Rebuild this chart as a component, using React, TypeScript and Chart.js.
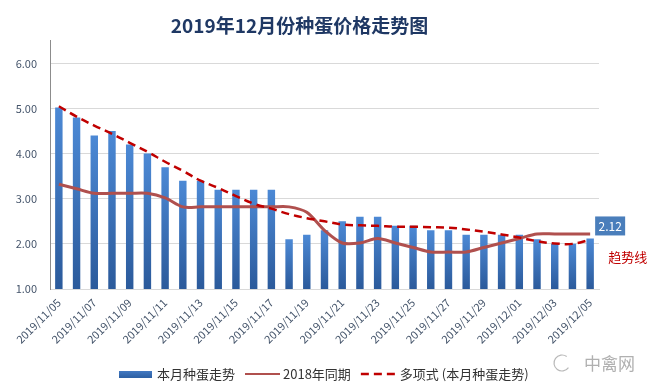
import React, { useEffect, useRef } from 'react';
import { Chart, registerables } from 'chart.js';

Chart.register(...registerables);

const TITLE = '2019年12月份种蛋价格走势图';
const SERIES_NAMES = ['本月种蛋走势', '2018年同期', '多项式 (本月种蛋走势)'];
const TREND_TAG = '趋势线';
const WATERMARK = '中禽网';

const dates = [
  '2019/11/05', '2019/11/06', '2019/11/07', '2019/11/08', '2019/11/09', '2019/11/10',
  '2019/11/11', '2019/11/12', '2019/11/13', '2019/11/14', '2019/11/15', '2019/11/16',
  '2019/11/17', '2019/11/18', '2019/11/19', '2019/11/20', '2019/11/21', '2019/11/22',
  '2019/11/23', '2019/11/24', '2019/11/25', '2019/11/26', '2019/11/27', '2019/11/28',
  '2019/11/29', '2019/11/30', '2019/12/01', '2019/12/02', '2019/12/03', '2019/12/04',
  '2019/12/05',
];

const currentPrices = [
  5.02, 4.8, 4.4, 4.5, 4.2, 4.0, 3.7, 3.4, 3.4, 3.2, 3.2, 3.2, 3.2, 2.1, 2.2, 2.3,
  2.5, 2.6, 2.6, 2.4, 2.4, 2.3, 2.3, 2.2, 2.2, 2.2, 2.2, 2.1, 2.0, 2.0, 2.12,
];

const lastYearPrices = [
  3.32, 3.22, 3.12, 3.12, 3.12, 3.12, 3.02, 2.82, 2.82, 2.82, 2.82, 2.82, 2.82, 2.82, 2.7, 2.3,
  2.02, 2.02, 2.12, 2.02, 1.92, 1.82, 1.82, 1.82, 1.92, 2.02, 2.12, 2.22, 2.22, 2.22, 2.22,
];

const trendPrices = [
  5.05, 4.82, 4.62, 4.44, 4.24, 4.04, 3.82, 3.62, 3.4, 3.24, 3.06, 2.89, 2.78, 2.66, 2.57, 2.5,
  2.43, 2.41, 2.4, 2.38, 2.38, 2.37, 2.36, 2.32, 2.27, 2.21, 2.14, 2.06, 2.01, 2.0, 2.09,
];

const Y_MIN = 1;
const Y_MAX = 6.5;
const Y_STEP = 1;

const FONT = "'Noto Sans CJK SC', 'Noto Sans', sans-serif";
const BAR_TOP = '#4C89D5';
const BAR_BOTTOM = '#2B5A9B';
const LINE_2018 = '#B0504E';
const TREND_RED = '#C00000';
const LABEL_BLUE = '#4A7EBB';

export default function App() {
  const ref = useRef<HTMLCanvasElement>(null);

  useEffect(() => {
    document.body.style.margin = '0';
    const canvas = ref.current;
    if (!canvas) return;

    const overlay = {
      id: 'overlay',
      afterDraw(chart: any) {
        const ctx = chart.ctx as CanvasRenderingContext2D;
        ctx.save();

        // value tag on the last bar
        const barMeta = chart.getDatasetMeta(0);
        const last = currentPrices.length - 1;
        const lastBar = barMeta.data[last];
        if (lastBar) {
          const bx = lastBar.x + 5;
          const by = lastBar.y - 22;
          ctx.fillStyle = LABEL_BLUE;
          ctx.fillRect(bx, by, 30, 19);
          ctx.fillStyle = '#FFFFFF';
          ctx.font = `12px ${FONT}`;
          ctx.textAlign = 'center';
          ctx.textBaseline = 'middle';
          ctx.fillText(currentPrices[last].toFixed(2), bx + 15, by + 10);
        }

        // trend tag
        const trendMeta = chart.getDatasetMeta(2);
        const lastTrend = trendMeta.data[last];
        if (lastTrend) {
          ctx.fillStyle = TREND_RED;
          ctx.font = `13px ${FONT}`;
          ctx.textAlign = 'left';
          ctx.textBaseline = 'middle';
          ctx.fillText(TREND_TAG, lastTrend.x + 18, lastTrend.y + 17);
        }

        // legend
        ctx.font = `13px ${FONT}`;
        ctx.textBaseline = 'middle';
        ctx.textAlign = 'left';
        const swW = [33, 35, 35];
        const swGap = [5, 3, 4];
        const itemGap = 10;
        const widths = SERIES_NAMES.map((n) => ctx.measureText(n).width);
        let total = 0;
        for (let i = 0; i < 3; i++) total += swW[i] + swGap[i] + widths[i] + (i < 2 ? itemGap : 0);
        let x = Math.round(324 - total / 2);
        const ly = 374;
        for (let i = 0; i < 3; i++) {
          if (i === 0) {
            const g = ctx.createLinearGradient(0, ly - 3, 0, ly + 3);
            g.addColorStop(0, '#4279C2');
            g.addColorStop(1, '#2F62A6');
            ctx.fillStyle = g;
            ctx.fillRect(x, ly - 3, swW[i], 7);
          } else {
            ctx.beginPath();
            ctx.strokeStyle = i === 1 ? LINE_2018 : TREND_RED;
            ctx.lineWidth = i === 1 ? 2 : 2.5;
            ctx.setLineDash(i === 1 ? [] : [8, 5]);
            ctx.moveTo(x, ly);
            ctx.lineTo(x + swW[i], ly);
            ctx.stroke();
            ctx.setLineDash([]);
          }
          x += swW[i] + swGap[i];
          ctx.fillStyle = '#333333';
          ctx.fillText(SERIES_NAMES[i], x, ly);
          x += widths[i] + itemGap;
        }

        // watermark
        ctx.strokeStyle = '#B8B8B8';
        ctx.lineWidth = 1.2;
        ctx.beginPath();
        ctx.arc(562, 363, 8, Math.PI * 0.2, Math.PI * 1.7);
        ctx.stroke();
        ctx.fillStyle = '#B0B0B0';
        ctx.font = `17px ${FONT}`;
        ctx.textAlign = 'left';
        ctx.fillText(WATERMARK, 584, 364);

        ctx.restore();
      },
    };

    const chart = new Chart(canvas, {
      type: 'bar',
      data: {
        labels: dates,
        datasets: [
          {
            type: 'bar',
            label: SERIES_NAMES[0],
            data: currentPrices,
            order: 3,
            barPercentage: 0.42,
            categoryPercentage: 1,
            backgroundColor: (c: any) => {
              const ch = c.chart;
              const area = ch.chartArea;
              const ys = ch.scales && ch.scales.y;
              if (!area || !ys || c.raw == null) return '#3A72BC';
              const top = ys.getPixelForValue(c.raw as number);
              const g = ch.ctx.createLinearGradient(0, top, 0, area.bottom);
              g.addColorStop(0, BAR_TOP);
              g.addColorStop(1, BAR_BOTTOM);
              return g;
            },
            borderWidth: 0,
          } as any,
          {
            type: 'line',
            label: SERIES_NAMES[1],
            data: lastYearPrices,
            order: 2,
            borderColor: LINE_2018,
            backgroundColor: LINE_2018,
            borderWidth: 3,
            pointRadius: 0,
            tension: 0.3,
            fill: false,
          } as any,
          {
            type: 'line',
            label: SERIES_NAMES[2],
            data: trendPrices,
            order: 1,
            borderColor: TREND_RED,
            backgroundColor: TREND_RED,
            borderWidth: 2.5,
            borderDash: [8, 5],
            pointRadius: 0,
            tension: 0.4,
            fill: false,
          } as any,
        ],
      },
      options: {
        responsive: false,
        animation: false,
        devicePixelRatio: 1,
        layout: { padding: { top: 0, right: 51, bottom: 0, left: 0 } },
        plugins: {
          legend: { display: false },
          tooltip: { enabled: false },
          title: {
            display: true,
            text: TITLE,
            color: '#1F3864',
            font: { family: FONT, size: 19, weight: 'bold' },
            padding: { top: 14, bottom: 4 },
          },
        },
        scales: {
          x: {
            grid: { display: false, drawTicks: false },
            border: { display: true, color: '#D9D9D9' },
            ticks: {
              autoSkip: false,
              minRotation: 45,
              maxRotation: 45,
              padding: 7,
              color: '#44546A',
              font: { family: FONT, size: 11 },
              callback: (_v: any, i: number) => (i % 2 === 0 ? dates[i] : ''),
            },
            afterFit: (s: any) => {
              s.height = 103;
            },
          },
          y: {
            min: Y_MIN,
            max: Y_MAX,
            grid: { color: '#D9D9D9', drawTicks: false },
            border: { display: true, color: '#8C8C8C' },
            ticks: {
              stepSize: Y_STEP,
              includeBounds: false,
              padding: 13,
              color: '#44546A',
              font: { family: FONT, size: 11 },
              callback: (v: any) => Number(v).toFixed(2),
            },
            afterFit: (s: any) => {
              s.width = 50;
            },
          },
        },
      },
      plugins: [overlay],
    } as any);

    return () => chart.destroy();
  }, []);

  return (
    <div style={{ position: 'fixed', left: 0, top: 0, width: 650, height: 392, background: '#FFFFFF' }}>
      <canvas ref={ref} width={650} height={392} style={{ display: 'block' }} />
    </div>
  );
}
